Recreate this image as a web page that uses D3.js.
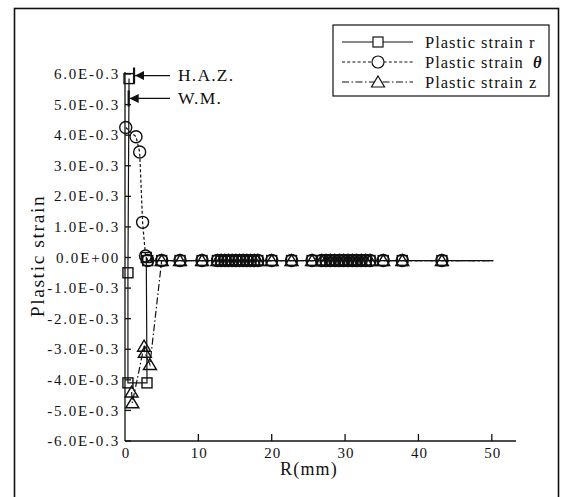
<!DOCTYPE html>
<html>
<head>
<meta charset="utf-8">
<script src="https://cdn.jsdelivr.net/npm/d3@7"></script>
<style>
  body { margin: 0; background: #fff; }
  text { font-family: 'Liberation Serif', 'DejaVu Serif', serif; fill: #111; }
</style>
</head>
<body>
<div id="view"></div>
<script>
'use strict';

// strain values are in units of 1E-3, R in mm
const nearR_r = [0.55, 0.4, 0.4, 3.0, 2.9];
const nearV_r = [5.85, -0.5, -4.1, -4.1, 0.0];
const nearR_t = [0.1, 1.5, 2.0, 2.4, 2.8];
const nearV_t = [4.25, 3.95, 3.45, 1.15, 0.05];
const nearR_z = [0.9, 1.0, 2.6, 2.7, 3.4];
const nearV_z = [-4.4, -4.75, -2.9, -3.1, -3.5];

// outer nodes, all three components sit just below zero
const farR = [3.1, 5.0, 7.5, 10.5, 12.6, 13.1, 13.6, 14.1, 14.6, 15.1, 15.6, 16.1, 16.6, 17.1,
  17.6, 18.1, 20.0, 22.7, 25.5, 26.8, 27.4, 28.0, 28.6, 29.2, 29.8, 30.4, 31.0, 31.6, 32.2,
  32.8, 33.4, 35.2, 37.8, 43.2, 50.2];
const farV = -0.1;

const yTicks = [6, 5, 4, 3, 2, 1, 0, -1, -2, -3, -4, -5, -6];
const xTicks = [0, 10, 20, 30, 40, 50];

const seriesNames = ['Plastic strain r', 'Plastic strain ', 'Plastic strain z'];

const size = { w: 561, h: 497 };
const plot = { left: 125, right: 516, top: 74, bottom: 441 };

const presentation = {
  stroke: '#111',
  dash_t: '3,2.2',
  dash_z: '7,2.5,1.5,2.5'
};

const x = d3.scaleLinear().domain([0, 53.3]).range([plot.left, plot.right]);
const y = d3.scaleLinear().domain([-6, 6]).range([plot.bottom, plot.top]);

function buildSeries(rs, vs, fromR) {
  const pts = rs.map((r, i) => ({ r, v: vs[i] }));
  farR.filter(r => r >= fromR).forEach(r => pts.push({ r, v: farV }));
  return pts;
}

const series = [
  { name: seriesNames[0], pts: buildSeries(nearR_r, nearV_r, 0), dash: null, marker: 'square' },
  { name: seriesNames[1], pts: buildSeries(nearR_t, nearV_t, 0), dash: presentation.dash_t, marker: 'circle' },
  { name: seriesNames[2], pts: buildSeries(nearR_z, nearV_z, 5), dash: presentation.dash_z, marker: 'triangle' }
];

const svg = d3.select('#view').append('svg')
  .attr('width', size.w)
  .attr('height', size.h);

svg.append('rect')
  .attr('x', 14.5).attr('y', 8.5)
  .attr('width', 544).attr('height', 520)
  .attr('fill', 'none')
  .attr('stroke', presentation.stroke)
  .attr('stroke-width', 1.6);

// axes
const gAxes = svg.append('g').attr('stroke', presentation.stroke).attr('stroke-width', 1.3);
gAxes.append('line')
  .attr('x1', plot.left).attr('x2', plot.left)
  .attr('y1', plot.top - 2).attr('y2', plot.bottom);
gAxes.append('line')
  .attr('x1', plot.left).attr('x2', plot.right)
  .attr('y1', plot.bottom).attr('y2', plot.bottom);

gAxes.selectAll('line.ytick')
  .data(yTicks)
  .enter()
  .append('line')
  .attr('class', 'ytick')
  .attr('x1', plot.left).attr('x2', plot.left + 6)
  .attr('y1', d => y(d)).attr('y2', d => y(d));

gAxes.selectAll('line.xtick')
  .data(xTicks.filter(d => d > 0))
  .enter()
  .append('line')
  .attr('class', 'xtick')
  .attr('x1', d => x(d)).attr('x2', d => x(d))
  .attr('y1', plot.bottom).attr('y2', plot.bottom - 7);

function fmtStrain(v) {
  if (v === 0) return '0.0E+00';
  return v.toFixed(1) + 'E-0.3';
}

svg.selectAll('text.ylab')
  .data(yTicks)
  .enter()
  .append('text')
  .attr('class', 'ylab')
  .attr('x', plot.left - 5)
  .attr('y', d => y(d))
  .attr('dy', '0.34em')
  .attr('text-anchor', 'end')
  .attr('font-size', 15)
  .attr('letter-spacing', 1.8)
  .text(fmtStrain);

svg.selectAll('text.xlab')
  .data(xTicks)
  .enter()
  .append('text')
  .attr('class', 'xlab')
  .attr('x', d => x(d) + 1)
  .attr('y', plot.bottom + 12)
  .attr('dy', '0.34em')
  .attr('text-anchor', 'middle')
  .attr('font-size', 15)
  .attr('letter-spacing', 1)
  .text(d => d);

svg.append('text')
  .attr('x', 309).attr('y', 469)
  .attr('dy', '0.34em')
  .attr('text-anchor', 'middle')
  .attr('font-size', 18)
  .attr('letter-spacing', 1.2)
  .text('R(mm)');

svg.append('text')
  .attr('transform', 'translate(37,256)rotate(-90)')
  .attr('dy', '0.34em')
  .attr('text-anchor', 'middle')
  .attr('font-size', 19.5)
  .attr('letter-spacing', 1.6)
  .text('Plastic strain');

// series
const line = d3.line().x(d => x(d.r)).y(d => y(d.v));

function drawMarker(g, type, cx, cy) {
  if (type === 'square') {
    g.append('rect')
      .attr('x', cx - 5).attr('y', cy - 5)
      .attr('width', 10).attr('height', 10);
  } else if (type === 'circle') {
    g.append('circle').attr('cx', cx).attr('cy', cy).attr('r', 6);
  } else {
    g.append('path')
      .attr('d', `M${cx},${cy - 6}L${cx + 6.5},${cy + 5}L${cx - 6.5},${cy + 5}Z`);
  }
}

const gSeries = svg.append('g');
series.forEach(s => {
  gSeries.append('path')
    .attr('d', line(s.pts))
    .attr('fill', 'none')
    .attr('stroke', presentation.stroke)
    .attr('stroke-width', 1.2)
    .attr('stroke-dasharray', s.dash);

  const gMarks = gSeries.append('g')
    .attr('fill', 'none')
    .attr('stroke', presentation.stroke)
    .attr('stroke-width', 1.4);
  // no symbol on the last node of the line
  s.pts.slice(0, -1).forEach(d => drawMarker(gMarks, s.marker, x(d.r), y(d.v)));
});

// zone annotations
svg.append('defs').append('marker')
  .attr('id', 'arrow')
  .attr('viewBox', '0 0 10 10')
  .attr('refX', 10).attr('refY', 5)
  .attr('markerWidth', 9).attr('markerHeight', 9)
  .attr('markerUnits', 'userSpaceOnUse')
  .attr('orient', 'auto')
  .append('path')
  .attr('d', 'M0,0L10,5L0,10Z')
  .attr('fill', presentation.stroke);

const annotations = [
  { label: 'H.A.Z.', r: 0.55, v: 5.95, dx: 6 },
  { label: 'W.M.', r: 0.5, v: 5.2, dx: 1 }
];

annotations.forEach(a => {
  const tipX = x(a.r) + a.dx;
  const yy = y(a.v);
  svg.append('line')
    .attr('x1', 170).attr('x2', tipX)
    .attr('y1', yy).attr('y2', yy)
    .attr('stroke', presentation.stroke)
    .attr('stroke-width', 1.3)
    .attr('marker-end', 'url(#arrow)');
  svg.append('line')
    .attr('x1', tipX - 1).attr('x2', tipX - 1)
    .attr('y1', yy - 8).attr('y2', yy + 8)
    .attr('stroke', presentation.stroke)
    .attr('stroke-width', 2.2);
  svg.append('text')
    .attr('x', 178).attr('y', yy)
    .attr('dy', '0.34em')
    .attr('font-size', 17.5)
    .attr('letter-spacing', 1.2)
    .text(a.label);
});

// legend
const legend = { x: 333, y: 25, w: 216, h: 71, rowY: [42, 62, 82], x1: 342, x2: 413, xm: 378, xText: 425 };

svg.append('rect')
  .attr('x', legend.x).attr('y', legend.y)
  .attr('width', legend.w).attr('height', legend.h)
  .attr('fill', '#fff')
  .attr('stroke', presentation.stroke)
  .attr('stroke-width', 1.2);

series.forEach((s, i) => {
  const ly = legend.rowY[i];
  svg.append('line')
    .attr('x1', legend.x1).attr('x2', legend.x2)
    .attr('y1', ly).attr('y2', ly)
    .attr('stroke', presentation.stroke)
    .attr('stroke-width', 1.2)
    .attr('stroke-dasharray', s.dash);
  const gm = svg.append('g')
    .attr('fill', '#fff')
    .attr('stroke', presentation.stroke)
    .attr('stroke-width', 1.2);
  drawMarker(gm, s.marker, legend.xm, ly);

  const t = svg.append('text')
    .attr('x', legend.xText).attr('y', ly)
    .attr('dy', '0.34em')
    .attr('font-size', 16.5)
    .attr('letter-spacing', 1)
    .attr('xml:space', 'preserve')
    .text(s.name);
  if (i === 1) {
    t.append('tspan')
      .attr('font-weight', 'bold')
      .attr('font-style', 'italic')
      .attr('dx', 4)
      .text('θ');
  }
});
</script>
</body>
</html>
